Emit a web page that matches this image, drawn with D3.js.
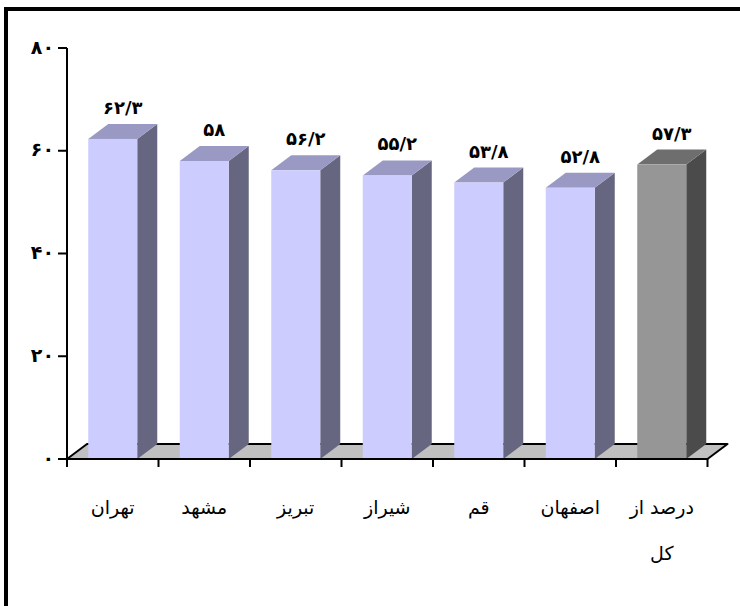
<!DOCTYPE html>
<html>
<head>
<meta charset="utf-8">
<script src="https://cdn.jsdelivr.net/npm/d3@7"></script>
<style>
  html, body { margin: 0; padding: 0; background: #fff; }
  svg { display: block; }
</style>
</head>
<body>
<svg id="chart" width="740" height="606"></svg>
<script>
// ---- data ----
const categories = ["تهران", "مشهد", "تبریز", "شیراز", "قم", "اصفهان", "درصد از کل"];
const values = [62.3, 58, 56.2, 55.2, 53.8, 52.8, 57.3];
const valueLabels = ["۶۲/۳", "۵۸", "۵۶/۲", "۵۵/۲", "۵۳/۸", "۵۲/۸", "۵۷/۳"];
const yTicks = [0, 20, 40, 60, 80];
const yTickLabels = ["۰", "۲۰", "۴۰", "۶۰", "۸۰"];
const totalCategory = "درصد از کل";

// ---- layout ----
const svg = d3.select("#chart");
const plotL = 67, plotR = 707.5, plotT = 48, plotB = 459;
const dx = 20, dy = -15;

const y = d3.scaleLinear().domain([0, 80]).range([plotB, plotT]);
const xBand = d3.scaleBand().domain(categories).range([plotL, plotR])
  .paddingInner(0.4645).paddingOuter(0.23225);
const xCat = d3.scaleBand().domain(categories).range([plotL, plotR]).padding(0);

// frame
svg.append("rect").attr("x", 6).attr("y", 9).attr("width", 900).attr("height", 800)
  .attr("fill", "none").attr("stroke", "#000").attr("stroke-width", 4);

// floor
const floorPts = [[plotL, plotB], [plotR, plotB], [plotR + dx, plotB + dy], [plotL + dx, plotB + dy]];
svg.append("polygon").attr("points", floorPts.map(p => p.join(",")).join(" "))
  .attr("fill", "#c0c0c0").attr("stroke", "#000").attr("stroke-width", 2)
  .attr("stroke-linejoin", "round");

// bars
const colors = d => d === totalCategory
  ? { front: "#969696", top: "#6e6e6e", side: "#4b4b4b" }
  : { front: "#ccccff", top: "#9999c4", side: "#666680" };

const bars = svg.append("g").selectAll("g").data(categories).join("g");
bars.each(function (c, i) {
  const g = d3.select(this);
  const x0 = xBand(c), w = xBand.bandwidth(), yt = y(values[i]), yb = y(0);
  const col = colors(c);
  g.append("polygon").attr("points",
    [[x0 + w, yt], [x0 + w + dx, yt + dy], [x0 + w + dx, yb + dy], [x0 + w, yb]].map(p => p.join(",")).join(" "))
    .attr("fill", col.side);
  g.append("polygon").attr("points",
    [[x0, yt], [x0 + dx, yt + dy], [x0 + w + dx, yt + dy], [x0 + w, yt]].map(p => p.join(",")).join(" "))
    .attr("fill", col.top);
  g.append("rect").attr("x", x0).attr("y", yt).attr("width", w).attr("height", yb - yt)
    .attr("fill", col.front);
});

// value labels
svg.append("g").selectAll("text").data(categories).join("text")
  .attr("x", c => xBand(c) + xBand.bandwidth() / 2 + dx / 2)
  .attr("y", (c, i) => y(values[i]) - 25)
  .attr("text-anchor", "middle")
  .attr("font-family", "DejaVu Sans")
  .attr("font-weight", "bold")
  .attr("font-size", 18)
  .text((c, i) => valueLabels[i]);

// y axis
const yAxis = svg.append("g");
yAxis.append("line").attr("x1", plotL).attr("x2", plotL).attr("y1", plotT).attr("y2", plotB + 8)
  .attr("stroke", "#000").attr("stroke-width", 2);
yAxis.selectAll("line.tick").data(yTicks).join("line").attr("class", "tick")
  .attr("x1", plotL - 9).attr("x2", plotL).attr("y1", d => y(d)).attr("y2", d => y(d))
  .attr("stroke", "#000").attr("stroke-width", 2);
yAxis.selectAll("text").data(yTicks).join("text")
  .attr("x", plotL - 13).attr("y", d => y(d)).attr("dy", "0.3em")
  .attr("text-anchor", "end")
  .attr("font-family", "DejaVu Sans").attr("font-weight", "bold").attr("font-size", 19)
  .text((d, i) => yTickLabels[i]);

// x axis line and ticks
const xAxis = svg.append("g");
xAxis.append("line").attr("x1", plotL).attr("x2", plotR).attr("y1", plotB).attr("y2", plotB)
  .attr("stroke", "#000").attr("stroke-width", 2);
const bounds = categories.map(c => xCat(c)).concat([plotR]);
xAxis.selectAll("line.tick").data(bounds).join("line").attr("class", "tick")
  .attr("x1", d => d).attr("x2", d => d).attr("y1", plotB).attr("y2", plotB + 8)
  .attr("stroke", "#000").attr("stroke-width", 2);

// category labels (wrapped)
const catFont = 19;
const maxW = xCat.bandwidth() * 0.8;
const catG = svg.append("g");
categories.forEach(c => {
  const cx = xCat(c) + xCat.bandwidth() / 2;
  const words = c.split(" ");
  const lines = [];
  let cur = [];
  const probe = catG.append("text").attr("font-family", "DejaVu Sans").attr("font-size", catFont).attr("direction", "rtl");
  words.forEach(wd => {
    const test = cur.concat([wd]).join(" ");
    probe.text(test);
    if (cur.length && probe.node().getComputedTextLength() > maxW) {
      lines.push(cur.join(" "));
      cur = [wd];
    } else cur.push(wd);
  });
  lines.push(cur.join(" "));
  probe.remove();
  lines.forEach((ln, k) => {
    catG.append("text")
      .attr("x", cx).attr("y", 514 + k * 46)
      .attr("text-anchor", "middle")
      .attr("direction", "rtl")
      .attr("font-family", "DejaVu Sans").attr("font-size", catFont)
      .text(ln);
  });
});
</script>
</body>
</html>
